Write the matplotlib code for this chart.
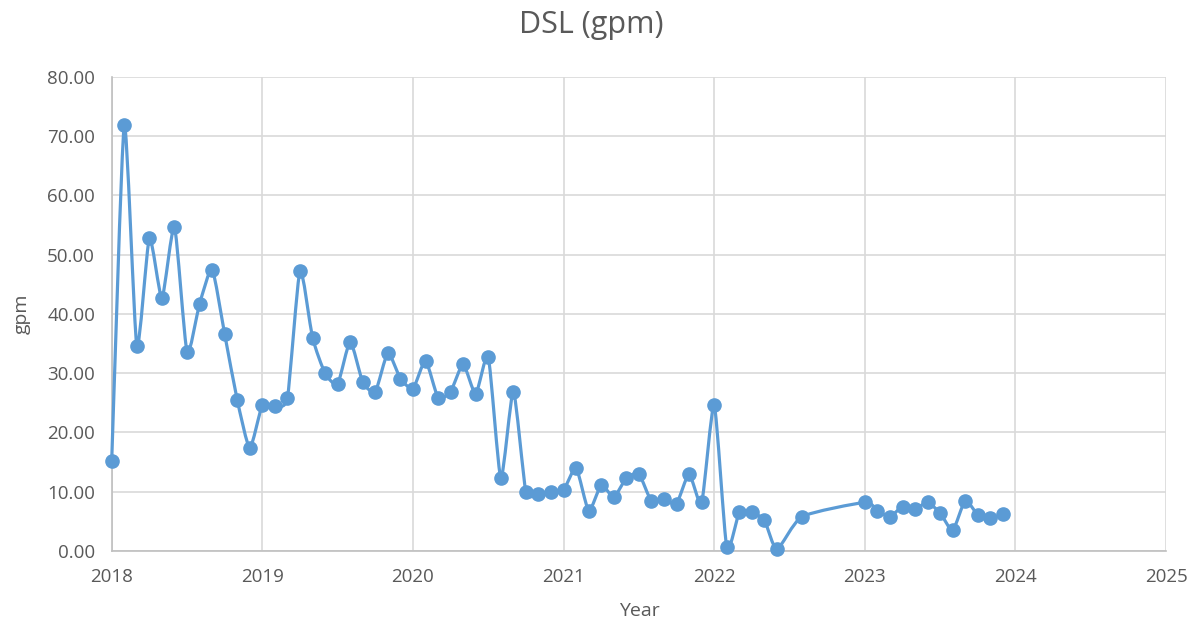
import numpy as np
import matplotlib.pyplot as plt
from matplotlib.path import Path
from matplotlib.patches import PathPatch

# monthly readings (gaps: Jul 2022, Sep-Dec 2022)
months = ['2018-01', '2018-02', '2018-03', '2018-04', '2018-05', '2018-06',
          '2018-07', '2018-08', '2018-09', '2018-10', '2018-11', '2018-12',
          '2019-01', '2019-02', '2019-03', '2019-04', '2019-05', '2019-06',
          '2019-07', '2019-08', '2019-09', '2019-10', '2019-11', '2019-12',
          '2020-01', '2020-02', '2020-03', '2020-04', '2020-05', '2020-06',
          '2020-07', '2020-08', '2020-09', '2020-10', '2020-11', '2020-12',
          '2021-01', '2021-02', '2021-03', '2021-04', '2021-05', '2021-06',
          '2021-07', '2021-08', '2021-09', '2021-10', '2021-11', '2021-12',
          '2022-01', '2022-02', '2022-03', '2022-04', '2022-05', '2022-06',
          '2022-08',
          '2023-01', '2023-02', '2023-03', '2023-04', '2023-05', '2023-06',
          '2023-07', '2023-08', '2023-09', '2023-10', '2023-11', '2023-12']
dsl_gpm = [15.2, 71.9, 34.6, 52.8, 42.7, 54.7, 33.6, 41.7, 47.5, 36.6, 25.5, 17.4,
           24.6, 24.5, 25.9, 47.3, 36.0, 30.0, 28.2, 35.3, 28.5, 26.9, 33.4, 29.1,
           27.4, 32.1, 25.9, 26.9, 31.5, 26.5, 32.7, 12.3, 26.9, 10.0, 9.7, 10.0,
           10.3, 14.0, 6.8, 11.1, 9.1, 12.3, 13.0, 8.4, 8.7, 8.0, 13.0, 8.2,
           24.6, 0.6, 6.5, 6.5, 5.2, 0.3,
           5.8,
           8.2, 6.8, 5.8, 7.5, 7.1, 8.2, 6.4, 3.5, 8.5, 6.1, 5.5, 6.2]
year_ticks = [2018, 2019, 2020, 2021, 2022, 2023, 2024, 2025]
y_ticks = [0, 10, 20, 30, 40, 50, 60, 70, 80]

line_color = '#5B9BD5'
text_color = '#595959'
plt.rcParams['font.family'] = ['Open Sans', 'DejaVu Sans']

x = np.array([int(m[:4]) + (int(m[5:]) - 1) / 12.0 for m in months])
y = np.array(dsl_gpm)

fig = plt.figure(figsize=(11.96, 6.31), dpi=100)
ax = fig.add_axes([0.0934, 0.1268, 0.8816, 0.7512])

# smoothed line like Excel (gentle Catmull-Rom as cubic bezier)
k = 1.0 / 10.0
pts = np.column_stack([x, y])
p = np.vstack([pts[0], pts, pts[-1]])
verts = [pts[0]]
codes = [Path.MOVETO]
for i in range(1, len(p) - 2):
    c1 = p[i] + (p[i + 1] - p[i - 1]) * k
    c2 = p[i + 1] - (p[i + 2] - p[i]) * k
    verts += [c1, c2, p[i + 1]]
    codes += [Path.CURVE4] * 3
ax.add_patch(PathPatch(Path(verts, codes), fill=False, edgecolor=line_color,
                       linewidth=2.3, capstyle='round', joinstyle='round',
                       zorder=3, clip_on=False))
ax.plot(x, y, 'o', color=line_color, markersize=9.5, zorder=4, clip_on=False)

ax.set_xlim(2018, 2025)
ax.set_ylim(0, 80)
ax.set_xticks(year_ticks)
ax.set_xticklabels([str(t) for t in year_ticks])
ax.set_yticks(y_ticks)
ax.set_yticklabels(['%.2f' % t for t in y_ticks])
ax.grid(True, color='#D9D9D9', linewidth=1.2)
ax.set_axisbelow(True)
for s in ['top', 'right']:
    ax.spines[s].set_visible(False)
for s in ['left', 'bottom']:
    ax.spines[s].set_color('#BFBFBF')
    ax.spines[s].set_linewidth(1.2)
ax.tick_params(axis='both', length=0, labelsize=13.5, labelcolor=text_color)
ax.tick_params(axis='x', pad=12)
ax.tick_params(axis='y', pad=12)

ax.set_xlabel('Year', fontsize=14, color=text_color, labelpad=12)
ax.set_ylabel('gpm', fontsize=14, color=text_color, labelpad=12)
fig.text(0.494, 0.96, 'DSL (gpm)', ha='center', va='center', fontsize=22, color=text_color)

fig.savefig('out.png', dpi=100)
